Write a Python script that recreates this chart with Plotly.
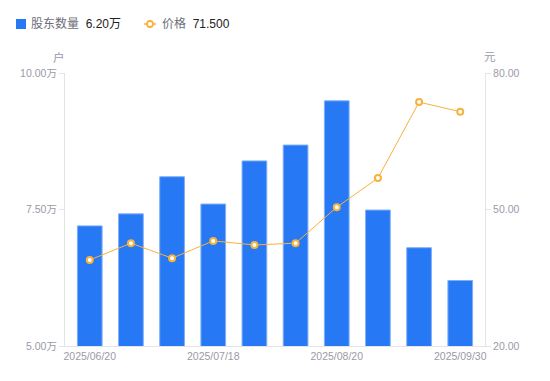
import plotly.graph_objects as go

dates = ["2025/06/20", "2025/06/30", "2025/07/10", "2025/07/18", "2025/07/31",
         "2025/08/10", "2025/08/20", "2025/08/31", "2025/09/10", "2025/09/30"]
holders = [7.20, 7.42, 8.10, 7.60, 8.39, 8.68, 9.49, 7.49, 6.80, 6.20]  # 万户
price = [38.9, 42.6, 39.3, 43.1, 42.2, 42.6, 50.5, 56.9, 73.6, 71.5]
shown_dates = ["2025/06/20", "2025/07/18", "2025/08/20", "2025/09/30"]
left_ticks = [5.0, 7.5, 10.0]
right_ticks = [20, 50, 80]

BLUE = "#2678F5"
ORANGE = "#F7B23B"
GRAY = "#9A9AA8"
FONT = "Liberation Sans, Noto Sans CJK SC, sans-serif"

# plot area in page pixels: x 65..485, y 73..346
PL, PR, PT, PB = 65, 485, 73, 346
def px(x):
    return (x - PL) / (PR - PL)
def py(y):
    return (PB - y) / (PB - PT)

fig = go.Figure()
fig.add_trace(go.Bar(x=dates, y=holders, marker=dict(color=BLUE, line=dict(color="#7FAEF8", width=1)),
                     width=0.6, yaxis="y", showlegend=False))
fig.add_trace(go.Scatter(x=dates, y=price, yaxis="y2", mode="lines+markers",
                         line=dict(color=ORANGE, width=1),
                         marker=dict(size=6, color="white", line=dict(color=ORANGE, width=2)),
                         showlegend=False))

OFF = 8  # page body offset
W, H = 550 - OFF, 381 - OFF
fig.update_layout(
    width=W, height=H,
    margin=dict(l=PL - OFF, r=W - (PR - OFF), t=PT - OFF, b=H - (PB - OFF)),
    paper_bgcolor="white", plot_bgcolor="white",
    font=dict(family=FONT, size=10, color=GRAY),
    xaxis=dict(type="category", tickmode="array", tickvals=shown_dates, ticktext=shown_dates,
               showline=True, linecolor="#E3E3E8", linewidth=1, ticks="", showgrid=False,
               tickfont=dict(size=10.5, color=GRAY)),
    yaxis=dict(range=[5, 10], tickvals=left_ticks, ticktext=[f"{v:.2f}万" for v in left_ticks],
               showline=True, linecolor="#E3E3E8", linewidth=1, ticks="outside", ticklen=5,
               tickcolor="#E3E3E8", showgrid=False, zeroline=False,
               tickfont=dict(size=10.5, color=GRAY)),
    yaxis2=dict(range=[20, 80], overlaying="y", side="right", tickvals=right_ticks,
                ticktext=[f"{v:.2f}" for v in right_ticks],
                showline=True, linecolor="#E3E3E8", linewidth=1, ticks="outside", ticklen=5,
                tickcolor="#E3E3E8", showgrid=False, zeroline=False,
                tickfont=dict(size=10.5, color=GRAY)),
)

# axis unit labels
fig.add_annotation(text="户", xref="paper", yref="paper", x=px(59), y=py(57), xanchor="center",
                   yanchor="middle", showarrow=False, font=dict(size=11.5, color=GRAY))
fig.add_annotation(text="元", xref="paper", yref="paper", x=px(490), y=py(57), xanchor="center",
                   yanchor="middle", showarrow=False, font=dict(size=11.5, color=GRAY))

# custom legend
fig.add_shape(type="rect", xref="paper", yref="paper",
              x0=px(16), x1=px(26), y0=py(29), y1=py(19),
              fillcolor=BLUE, line=dict(width=0))
fig.add_annotation(text=f"<span style='color:#6E6E7A'>股东数量</span>  <span style='color:#222'>{holders[-1]:.2f}万</span>",
                   xref="paper", yref="paper", x=px(29), y=py(24),
                   xanchor="left", yanchor="middle", showarrow=False, font=dict(size=12))
fig.add_shape(type="line", xref="paper", yref="paper",
              x0=px(144), x1=px(156), y0=py(24), y1=py(24),
              line=dict(color=ORANGE, width=1.5))
fig.add_shape(type="circle", xref="paper", yref="paper",
              x0=px(147), x1=px(153), y0=py(27), y1=py(21),
              fillcolor="white", line=dict(color=ORANGE, width=1.8))
fig.add_annotation(text=f"<span style='color:#6E6E7A'>价格</span>  <span style='color:#222'>{price[-1]:.3f}</span>",
                   xref="paper", yref="paper", x=px(160), y=py(24),
                   xanchor="left", yanchor="middle", showarrow=False, font=dict(size=12))

fig.write_html("out.html")
